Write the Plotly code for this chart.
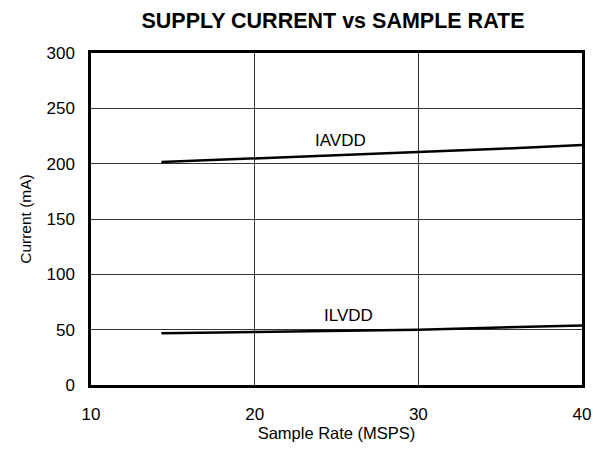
import plotly.graph_objects as go

rate_iavdd = [14.3, 20, 25, 30, 35, 40]
iavdd = [201.5, 204.8, 207.5, 210.2, 213.5, 216.8]
rate_ilvdd = [14.3, 20, 25, 30, 35, 40]
ilvdd = [46.7, 47.8, 48.8, 50.0, 52.0, 53.8]

x_ticks = [10, 20, 30, 40]
y_ticks = [0, 50, 100, 150, 200, 250, 300]

font = "Liberation Sans, Arial, sans-serif"

fig = go.Figure()
fig.add_trace(go.Scatter(x=rate_iavdd, y=iavdd, mode="lines",
                         line=dict(color="black", width=2.5), showlegend=False))
fig.add_trace(go.Scatter(x=rate_ilvdd, y=ilvdd, mode="lines",
                         line=dict(color="black", width=2.5), showlegend=False))

fig.add_annotation(x=25.27, y=220.5, text="IAVDD", showarrow=False,
                   font=dict(family=font, size=17, color="black"))
fig.add_annotation(x=25.73, y=62.4, text="ILVDD", showarrow=False,
                   font=dict(family=font, size=17, color="black"))

fig.update_layout(
    width=593, height=450,
    margin=dict(l=91, r=11, t=53, b=65, autoexpand=False),
    paper_bgcolor="white", plot_bgcolor="white",
    title=dict(text="<b>SUPPLY CURRENT vs SAMPLE RATE</b>", x=333/593, xanchor="center",
               y=1 - 20/450, yanchor="middle",
               font=dict(family=font, size=21.5, color="black")),
    font=dict(family=font, size=17, color="black"),
)
fig.update_xaxes(range=[10, 40], tickvals=x_ticks, showgrid=True, gridcolor="#333333", gridwidth=1,
                 showline=True, linecolor="black", linewidth=2.5, mirror=True,
                 ticks="", ticklen=0, zeroline=False, automargin=False,
                 ticklabelstandoff=12,
                 title=dict(text="Sample Rate (MSPS)", font=dict(size=16.5), standoff=5),
                 tickfont=dict(size=17))
fig.update_yaxes(range=[0, 300], tickvals=y_ticks, showgrid=True, gridcolor="#333333", gridwidth=1,
                 showline=True, linecolor="black", linewidth=2.5, mirror=True,
                 ticks="", ticklen=0, zeroline=False, automargin=False,
                 ticklabelstandoff=10,
                 title=dict(text="Current (mA)", font=dict(size=15.5), standoff=12),
                 tickfont=dict(size=17))

fig.write_html("out.html")
